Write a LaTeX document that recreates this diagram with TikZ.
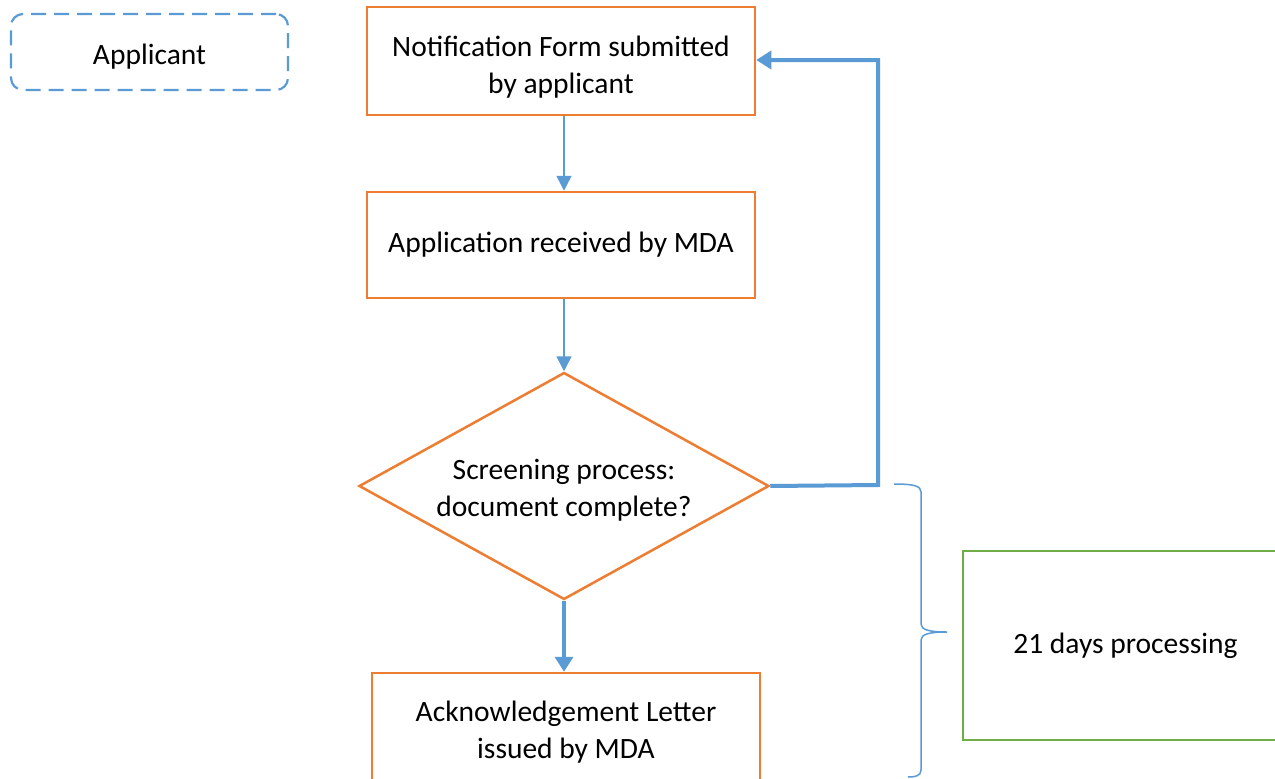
\documentclass[tikz,border=0pt]{standalone}
\usepackage{fontspec}
\setmainfont{Carlito}
\usetikzlibrary{arrows.meta,shapes.geometric}
\definecolor{orng}{HTML}{ED7D31}
\definecolor{blu}{HTML}{5B9BD5}
\definecolor{grn}{HTML}{70AD47}
\newcommand\lowerby[1]{\rule{0pt}{#1}}
\begin{document}
\begin{tikzpicture}[x=1pt,y=-1pt,
  every node/.style={font=\fontsize{29.5}{37}\selectfont, align=center, inner sep=0pt},
  procbox/.style={draw=orng, line width=2.5pt, rectangle, minimum width=388pt},
  thinarrow/.style={draw=blu, line width=1.5pt, -{Triangle[length=15pt,width=15pt]}},
  thickarrow/.style={draw=blu, line width=4pt, -{Triangle[length=15pt,width=18pt]}},
  actor/.style={draw=blu, line width=2.2pt, dash pattern=on 15pt off 8pt, rounded corners=12pt, rectangle},
  notebox/.style={draw=grn, line width=2.5pt, rectangle}
]
\useasboundingbox (0,0) rectangle (1275,779);
\fill[white] (0,0) rectangle (1275,779);

\node[actor, minimum width=277pt, minimum height=76pt] (app) at (149.5,52) {\lowerby{30pt}Applicant};

\node[procbox, minimum height=108pt] (n1) at (561,61) {\lowerby{32pt}Notification Form submitted\\by applicant};
\node[procbox, minimum height=106pt] (n2) at (561,245) {Application received by MDA};
\node[draw=orng, line width=2.5pt, diamond, aspect=1.806, minimum width=410pt, minimum height=227pt] (dia) at (564,486) {\lowerby{28pt}Screening process:\\document complete?};
\node[procbox, minimum height=114pt] (ack) at (566,730) {\lowerby{24pt}Acknowledgement Letter\\issued by MDA};
\node[notebox, minimum width=325pt, minimum height=189pt] (days) at (1125.5,645.5) {21 days processing};

\draw[thinarrow] ([xshift=3pt]n1.south) -- ([xshift=3pt]n2.north);
\draw[thinarrow] ([xshift=3pt]n2.south) -- (dia.north);
\draw[thickarrow] (dia.south) -- (ack.north -| dia.south);

\coordinate (turn) at (878,485);
\draw[thickarrow] (dia.east) -- (turn) |- ([yshift=1pt]n1.east);

\coordinate (braceTip) at (947,632);
\draw[blu, line width=1.5pt] (894,484) .. controls (914,484) and (921,486) .. (921,492)
  -- (921,624) .. controls (921,630) and (930,632) .. (braceTip)
  .. controls (930,632) and (921,634) .. (921,640)
  -- (921,770) .. controls (921,776) and (915,777) .. (908,777);
\end{tikzpicture}
\end{document}
